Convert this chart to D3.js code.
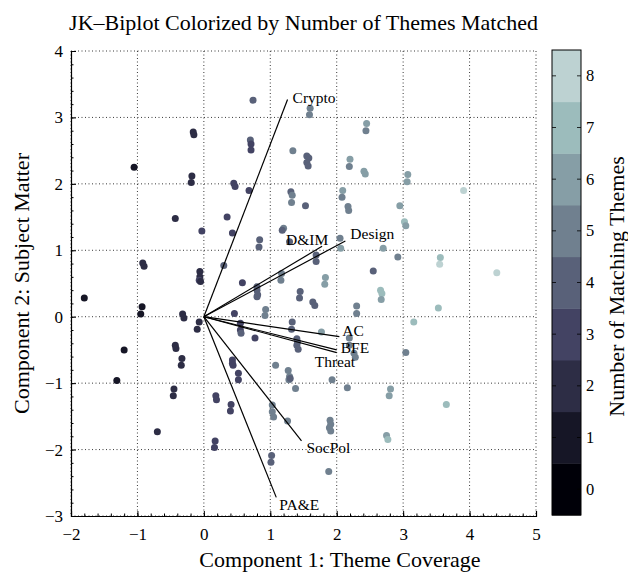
<!DOCTYPE html>
<html>
<head>
<meta charset="utf-8">
<script src="https://cdn.jsdelivr.net/npm/d3@7"></script>
<style>
  body { margin: 0; background: #fff; }
  text { font-family: "Liberation Serif", "Times New Roman", serif; fill: #000; }
</style>
</head>
<body>
<div id="chart"></div>
<script>
// scores on the two components, and how many themes each item matched
var pcX = [0.74, -0.16, -0.15, -1.05, -0.18, -0.19, 0.70, 0.71, 0.71, 0.45,
  0.47, 0.68, -0.43, -0.03, 0.35, 0.43, 0.84, 0.83, 1.34, 1.31,
  1.33, 1.32, 1.20, 1.18, 1.29, -0.92, -0.90, -0.06, -0.06, -0.07,
  -0.05, 0.30, 1.17, 1.16, 1.60, 1.59, 2.45, 2.44, 1.55, 1.58,
  1.55, 1.57, 2.20, 2.19, 2.41, 2.43, 3.07, 3.06, 3.91, 1.53,
  2.09, 2.08, 2.17, 2.18, 2.95, 3.02, 3.04, 2.05, 2.06, 1.69,
  1.69, 2.70, 2.92, 3.56, 3.55, 4.41, 2.55, 1.83, 1.82, -1.80,
  -0.93, -0.95, -1.20, -1.31, -0.32, -0.30, -0.07, -0.10, -0.43, -0.42,
  -0.33, -0.34, -0.45, -0.46, -0.70, 0.17, 0.16, 0.18, 0.19, 0.41,
  0.40, 0.43, 0.43, 0.44, 0.52, 0.52, 0.46, 0.58, 0.80, 0.80,
  0.81, 0.80, 0.55, 0.55, 0.56, 0.77, 0.93, 0.92, 1.08, 1.27,
  1.29, 1.28, 1.30, 1.38, 1.03, 1.03, 1.05, 1.26, 1.02, 1.01,
  1.45, 1.44, 1.64, 1.67, 2.30, 2.30, 2.66, 2.68, 2.67, 3.53,
  3.16, 1.33, 1.32, 1.77, 1.40, 1.41, 1.40, 1.42, 2.19, 2.19,
  2.26, 2.28, 3.04, 1.93, 2.16, 2.81, 2.79, 3.65, 1.90, 1.91,
  1.89, 1.91, 2.75, 2.77, 1.88];
var pcY = [3.26, 2.78, 2.74, 2.25, 2.12, 2.02, 2.66, 2.60, 2.51, 2.01,
  1.96, 1.90, 1.48, 1.29, 1.50, 1.26, 1.16, 1.05, 2.50, 1.88,
  1.83, 1.72, 1.33, 1.30, 1.13, 0.81, 0.76, 0.68, 0.60, 0.55,
  0.53, 0.77, 0.65, 0.55, 3.14, 3.04, 2.91, 2.80, 2.42, 2.39,
  2.32, 2.27, 2.37, 2.26, 2.19, 2.15, 2.14, 2.03, 1.90, 1.67,
  1.90, 1.80, 1.66, 1.60, 1.67, 1.43, 1.37, 1.18, 1.03, 0.93,
  0.83, 1.03, 0.90, 0.89, 0.79, 0.66, 0.69, 0.59, 0.49, 0.28,
  0.15, 0.04, -0.50, -0.96, 0.04, -0.02, -0.08, -0.19, -0.43, -0.48,
  -0.63, -0.73, -1.09, -1.19, -1.73, -1.87, -1.97, -1.19, -1.25, -1.32,
  -1.42, -0.65, -0.70, -0.73, -0.85, -0.95, 0.05, 0.51, 0.45, 0.40,
  0.33, 0.30, -0.10, -0.20, -0.25, -0.32, 0.11, 0.02, -0.73, -0.81,
  -0.90, -0.95, -0.93, -1.08, -1.33, -1.43, -1.51, -1.57, -2.09, -2.19,
  0.38, 0.28, 0.22, 0.17, 0.16, 0.05, 0.40, 0.35, 0.26, 0.13,
  -0.08, -0.08, -0.19, -0.23, -0.33, -0.38, -0.43, -0.49, -0.32, -0.43,
  -0.55, -0.61, -0.54, -0.95, -1.07, -1.09, -1.19, -1.32, -1.56, -1.62,
  -1.67, -1.72, -1.79, -1.85, -2.33];
var themes = [4, 2, 2, 1, 2, 2, 4, 3, 3, 3,
  3, 3, 2, 3, 3, 3, 4, 4, 5, 4,
  5, 5, 5, 4, 4, 2, 2, 2, 2, 3,
  2, 4, 5, 5, 5, 5, 6, 5, 4, 4,
  4, 4, 6, 5, 6, 6, 6, 6, 8, 4,
  6, 5, 5, 5, 6, 7, 6, 5, 6, 4,
  4, 6, 5, 7, 8, 8, 4, 6, 6, 1,
  1, 1, 1, 1, 2, 2, 2, 2, 2, 2,
  2, 2, 2, 2, 2, 3, 3, 3, 3, 3,
  3, 3, 3, 3, 3, 3, 3, 3, 4, 4,
  4, 4, 3, 3, 4, 3, 5, 5, 5, 5,
  5, 5, 4, 5, 5, 5, 5, 5, 4, 4,
  4, 4, 4, 4, 5, 5, 7, 7, 6, 7,
  7, 4, 4, 6, 4, 4, 4, 4, 5, 5,
  5, 5, 5, 5, 5, 6, 6, 7, 5, 5,
  5, 5, 6, 7, 5];

// loading vectors
var vecNames = ["Crypto", "D&IM", "Design", "AC", "BFE", "Threat", "SocPol", "PA&E"];
var vecX = [1.26, 1.78, 2.13, 2.04, 2.00, 2.00, 1.47, 1.09];
var vecY = [3.27, 1.06, 1.14, -0.30, -0.50, -0.54, -1.87, -2.72];

var xTicks = [-2, -1, 0, 1, 2, 3, 4, 5];
var yTicks = [-3, -2, -1, 0, 1, 2, 3, 4];
var themeLevels = [0, 1, 2, 3, 4, 5, 6, 7, 8];

// first nine entries of matlab bone(11)
var boneColors = ["#000008", "#161626", "#2d2d45", "#434363", "#596179",
  "#70808f", "#869ea6", "#9cbcbc", "#bdd2d2"];

// label nudges in pixels (text sits next to the tip of each vector)
var labelOffset = {
  "Crypto": [5, 4], "D&IM": [-36, -1], "Design": [5, -2], "AC": [3, -1],
  "BFE": [4, 3], "Threat": [-22, 14], "SocPol": [5, 12], "PA&E": [3, 13]
};

var svgWidth = 628;
var svgHeight = 573;

var margin = { top: 51, right: 92, bottom: 57, left: 71 };
var chartWidth = svgWidth - margin.left - margin.right;
var chartHeight = svgHeight - margin.top - margin.bottom;

var svg = d3.select("#chart").append("svg")
  .attr("width", svgWidth)
  .attr("height", svgHeight);

var chartGroup = svg.append("g")
  .attr("transform", `translate(${margin.left}, ${margin.top})`);

var xScale = d3.scaleLinear().domain([-2, 5]).range([0, chartWidth]);
var yScale = d3.scaleLinear().domain([-3, 4]).range([chartHeight, 0]);

// dotted grid
chartGroup.selectAll(".gx")
  .data(xTicks)
  .enter()
  .append("line")
  .attr("x1", d => xScale(d)).attr("x2", d => xScale(d))
  .attr("y1", 0).attr("y2", chartHeight)
  .attr("stroke", "#222").attr("stroke-width", 0.9)
  .attr("stroke-dasharray", "1,2.5");

chartGroup.selectAll(".gy")
  .data(yTicks)
  .enter()
  .append("line")
  .attr("y1", d => yScale(d)).attr("y2", d => yScale(d))
  .attr("x1", 0).attr("x2", chartWidth)
  .attr("stroke", "#222").attr("stroke-width", 0.9)
  .attr("stroke-dasharray", "1,2.5");

// axes (ticks inward, minor ticks too)
var xMinor = d3.range(-2, 5.001, 0.2);
var yMinor = d3.range(-3, 4.001, 0.2);
var minusFmt = d => d < 0 ? "\u2212" + Math.abs(d) : d;

var xAxisG = chartGroup.append("g")
  .attr("transform", `translate(0, ${chartHeight})`);
xAxisG.call(d3.axisBottom(xScale).tickValues(xMinor).tickSize(-2.5).tickFormat(""));
xAxisG.call(g => g.select(".domain").remove());
chartGroup.append("g")
  .attr("transform", `translate(0, ${chartHeight})`)
  .call(d3.axisBottom(xScale).tickValues(xTicks).tickSize(-5).tickPadding(12)
    .tickFormat(minusFmt))
  .call(g => g.selectAll("text").attr("font-size", "17px")
    .attr("font-family", "Liberation Serif").attr("fill", "#000"))
  .call(g => g.select(".domain").attr("stroke", "#000").attr("stroke-width", 1.2));

var yAxisG = chartGroup.append("g");
yAxisG.call(d3.axisLeft(yScale).tickValues(yMinor).tickSize(-2.5).tickFormat(""));
yAxisG.call(g => g.select(".domain").remove());
chartGroup.append("g")
  .call(d3.axisLeft(yScale).tickValues(yTicks).tickSize(-5).tickPadding(8)
    .tickFormat(minusFmt))
  .call(g => g.selectAll("text").attr("font-size", "17px")
    .attr("font-family", "Liberation Serif").attr("fill", "#000"))
  .call(g => g.select(".domain").attr("stroke", "#000").attr("stroke-width", 1.2));

// score points
chartGroup.selectAll("circle")
  .data(pcX)
  .enter()
  .append("circle")
  .attr("cx", (d, i) => xScale(pcX[i]))
  .attr("cy", (d, i) => yScale(pcY[i]))
  .attr("r", 3.5)
  .attr("fill", (d, i) => boneColors[themes[i]]);

// biplot vectors
chartGroup.selectAll(".vec")
  .data(vecNames)
  .enter()
  .append("line")
  .attr("x1", xScale(0)).attr("y1", yScale(0))
  .attr("x2", (d, i) => xScale(vecX[i]))
  .attr("y2", (d, i) => yScale(vecY[i]))
  .attr("stroke", "#000")
  .attr("stroke-width", 1.2);

chartGroup.selectAll(".vecLabel")
  .data(vecNames)
  .enter()
  .append("text")
  .attr("x", (d, i) => xScale(vecX[i]) + labelOffset[d][0])
  .attr("y", (d, i) => yScale(vecY[i]) + labelOffset[d][1])
  .attr("font-size", "15.5px")
  .text(d => d);

// title and axis labels
svg.append("text")
  .attr("x", margin.left + chartWidth / 2)
  .attr("y", 30)
  .attr("text-anchor", "middle")
  .attr("font-size", "22px")
  .text("JK\u2013Biplot Colorized by Number of Themes Matched");

svg.append("text")
  .attr("x", 340)
  .attr("y", 567)
  .attr("text-anchor", "middle")
  .attr("font-size", "22px")
  .text("Component 1: Theme Coverage");

svg.append("text")
  .attr("transform", `translate(29, ${margin.top + chartHeight / 2}) rotate(-90)`)
  .attr("text-anchor", "middle")
  .attr("font-size", "22px")
  .text("Component 2: Subject Matter");

// colorbar
var cbX = 552;
var cbWidth = 29;
var cbScale = d3.scaleLinear().domain([-0.5, 8.5]).range([515, 50]);

var cbGroup = svg.append("g");

cbGroup.selectAll("rect")
  .data(themeLevels)
  .enter()
  .append("rect")
  .attr("x", cbX)
  .attr("y", d => cbScale(d + 0.5))
  .attr("width", cbWidth)
  .attr("height", d => cbScale(d - 0.5) - cbScale(d + 0.5) + 0.5)
  .attr("fill", d => boneColors[d]);

cbGroup.append("rect")
  .attr("x", cbX).attr("y", cbScale(8.5))
  .attr("width", cbWidth).attr("height", cbScale(-0.5) - cbScale(8.5))
  .attr("fill", "none").attr("stroke", "#000").attr("stroke-width", 1);

cbGroup.selectAll(".cbTickL")
  .data(themeLevels)
  .enter()
  .append("line")
  .attr("x1", cbX).attr("x2", cbX + 4)
  .attr("y1", d => cbScale(d)).attr("y2", d => cbScale(d))
  .attr("stroke", "#000").attr("stroke-width", 0.8);

cbGroup.selectAll(".cbTickR")
  .data(themeLevels)
  .enter()
  .append("line")
  .attr("x1", cbX + cbWidth - 4).attr("x2", cbX + cbWidth)
  .attr("y1", d => cbScale(d)).attr("y2", d => cbScale(d))
  .attr("stroke", "#000").attr("stroke-width", 0.8);

cbGroup.selectAll(".cbLabel")
  .data(themeLevels)
  .enter()
  .append("text")
  .attr("x", cbX + cbWidth + 5)
  .attr("y", d => cbScale(d) + 5.5)
  .attr("font-size", "16.5px")
  .text(d => d);

svg.append("text")
  .attr("transform", `translate(624, ${margin.top + chartHeight / 2 + 3}) rotate(-90)`)
  .attr("text-anchor", "middle")
  .attr("font-size", "22px")
  .text("Number of Matching Themes");
</script>
</body>
</html>
